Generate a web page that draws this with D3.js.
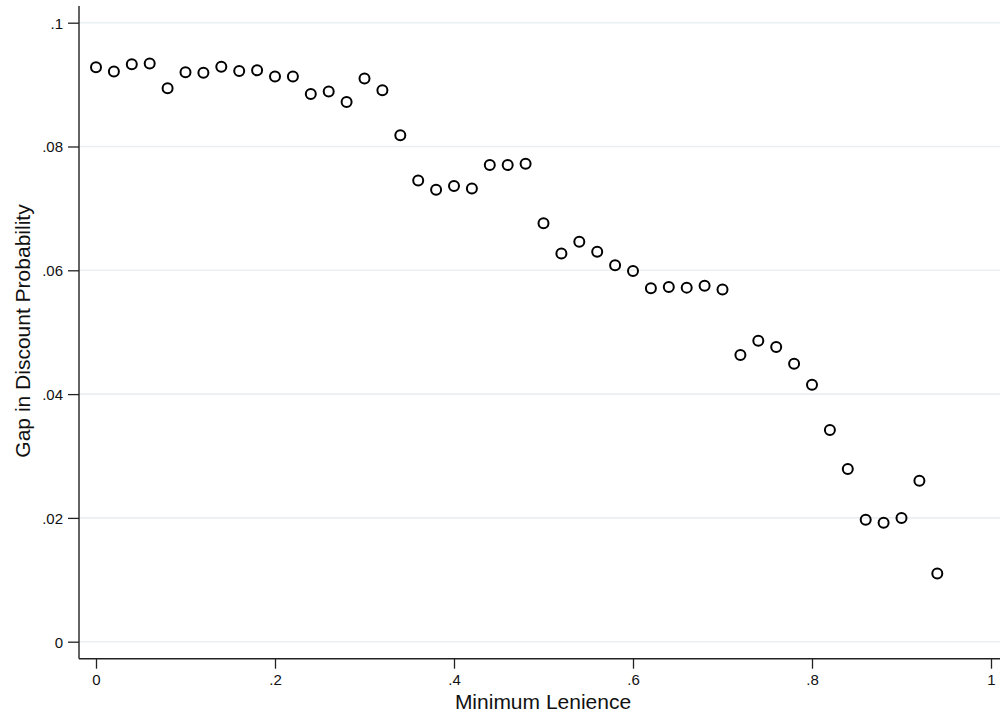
<!DOCTYPE html>
<html>
<head>
<meta charset="utf-8">
<script src="https://cdn.jsdelivr.net/npm/d3@7"></script>
<style>
  html, body { margin: 0; padding: 0; background: #fff; }
  svg { display: block; }
  text { font-family: "Liberation Sans", Arial, Helvetica, sans-serif; fill: #111; }
</style>
</head>
<body>
<svg id="chart" width="1000" height="717"></svg>
<script>
const lenience = [0, .02, .04, .06, .08, .10, .12, .14, .16, .18, .20, .22, .24, .26, .28, .30,
  .32, .34, .36, .38, .40, .42, .44, .46, .48, .50, .52, .54, .56, .58, .60, .62,
  .64, .66, .68, .70, .72, .74, .76, .78, .80, .82, .84, .86, .88, .90, .92, .94];
const gap = [0.0928, 0.0921, 0.0933, 0.0934, 0.0894, 0.0920, 0.0919, 0.0929, 0.0922, 0.0923,
  0.0913, 0.0913, 0.0885, 0.0889, 0.0872, 0.0910, 0.0891, 0.0818, 0.0745, 0.0730,
  0.0736, 0.0732, 0.0770, 0.0770, 0.0772, 0.0676, 0.0627, 0.0646, 0.0630, 0.0608,
  0.0599, 0.0571, 0.0573, 0.0572, 0.0575, 0.0569, 0.0463, 0.0486, 0.0476, 0.0449,
  0.0415, 0.0342, 0.0279, 0.0197, 0.0192, 0.0200, 0.0260, 0.0110];
const xTicks = [0, .2, .4, .6, .8, 1];
const xTickLabels = ["0", ".2", ".4", ".6", ".8", "1"];
const yTicks = [0, .02, .04, .06, .08, .1];
const yTickLabels = ["0", ".02", ".04", ".06", ".08", ".1"];
const xTitle = "Minimum Lenience";
const yTitle = "Gap in Discount Probability";

const svg = d3.select("#chart");
const axisX = 79, axisY = 658.7;

const x = d3.scaleLinear().domain([0, 1]).range([96, 991]);
const y = d3.scaleLinear().domain([0, 0.1]).range([641.7, 22.7]);

// gridlines
svg.append("g").selectAll("line").data(yTicks).join("line")
  .attr("x1", axisX).attr("x2", 1000)
  .attr("y1", d => y(d)).attr("y2", d => y(d))
  .attr("stroke", "#e8f0f2").attr("stroke-width", 1.6);

// y axis
const yAxis = d3.axisLeft(y).tickValues(yTicks)
  .tickFormat((d, i) => yTickLabels[i]).tickSize(11).tickPadding(5);
const gy = svg.append("g").attr("transform", `translate(${axisX},0)`).call(yAxis);
gy.select(".domain").remove();
gy.selectAll(".tick line").attr("stroke", "#222").attr("stroke-width", 1.3);
gy.selectAll(".tick text").attr("font-size", 15).attr("fill", "#111")
  .attr("font-family", "'Liberation Sans', Arial, sans-serif").attr("dy", "0.36em");
svg.append("line").attr("x1", axisX).attr("x2", axisX).attr("y1", 6).attr("y2", axisY)
  .attr("stroke", "#222").attr("stroke-width", 1.4);

// x axis
const xAxis = d3.axisBottom(x).tickValues(xTicks)
  .tickFormat((d, i) => xTickLabels[i]).tickSize(10).tickPadding(6);
const gx = svg.append("g").attr("transform", `translate(0,${axisY})`).call(xAxis);
gx.select(".domain").remove();
gx.selectAll(".tick line").attr("stroke", "#222").attr("stroke-width", 1.3);
gx.selectAll(".tick text").attr("font-size", 15).attr("fill", "#111")
  .attr("font-family", "'Liberation Sans', Arial, sans-serif");
svg.append("line").attr("x1", axisX).attr("x2", 1000).attr("y1", axisY).attr("y2", axisY)
  .attr("stroke", "#222").attr("stroke-width", 1.4);

// titles
svg.append("text").attr("x", 543).attr("y", 709).attr("text-anchor", "middle")
  .attr("font-size", 21).text(xTitle);
svg.append("text").attr("transform", "translate(30,331) rotate(-90)")
  .attr("text-anchor", "middle").attr("font-size", 21).text(yTitle);

// points
svg.append("g").selectAll("circle").data(lenience).join("circle")
  .attr("cx", d => x(d)).attr("cy", (d, i) => y(gap[i]))
  .attr("r", 5).attr("fill", "none").attr("stroke", "#000").attr("stroke-width", 2);
</script>
</body>
</html>
